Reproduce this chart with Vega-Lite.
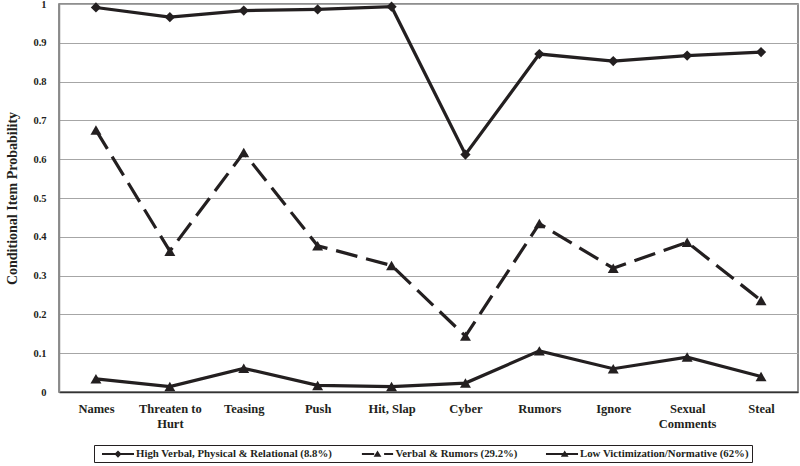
{
  "$schema": "https://vega.github.io/schema/vega-lite/v6.json",
  "autosize": "none",
  "width": 739,
  "height": 388,
  "padding": {"left": 59, "top": 4, "right": 2, "bottom": 74},
  "background": "white",
  "config": {
    "view": {"stroke": "#6b6b6b", "strokeWidth": 1.5},
    "font": "Liberation Serif"
  },
  "data": {
    "values": [
      {"series": "High Verbal, Physical & Relational (8.8%)", "item": "Names", "p": 0.991},
      {"series": "High Verbal, Physical & Relational (8.8%)", "item": "Threaten to Hurt", "p": 0.966},
      {"series": "High Verbal, Physical & Relational (8.8%)", "item": "Teasing", "p": 0.983},
      {"series": "High Verbal, Physical & Relational (8.8%)", "item": "Push", "p": 0.986},
      {"series": "High Verbal, Physical & Relational (8.8%)", "item": "Hit, Slap", "p": 0.993},
      {"series": "High Verbal, Physical & Relational (8.8%)", "item": "Cyber", "p": 0.612},
      {"series": "High Verbal, Physical & Relational (8.8%)", "item": "Rumors", "p": 0.871},
      {"series": "High Verbal, Physical & Relational (8.8%)", "item": "Ignore", "p": 0.853},
      {"series": "High Verbal, Physical & Relational (8.8%)", "item": "Sexual Comments", "p": 0.867},
      {"series": "High Verbal, Physical & Relational (8.8%)", "item": "Steal", "p": 0.876},
      {"series": "Verbal & Rumors (29.2%)", "item": "Names", "p": 0.675},
      {"series": "Verbal & Rumors (29.2%)", "item": "Threaten to Hurt", "p": 0.363},
      {"series": "Verbal & Rumors (29.2%)", "item": "Teasing", "p": 0.617},
      {"series": "Verbal & Rumors (29.2%)", "item": "Push", "p": 0.377},
      {"series": "Verbal & Rumors (29.2%)", "item": "Hit, Slap", "p": 0.326},
      {"series": "Verbal & Rumors (29.2%)", "item": "Cyber", "p": 0.144},
      {"series": "Verbal & Rumors (29.2%)", "item": "Rumors", "p": 0.434},
      {"series": "Verbal & Rumors (29.2%)", "item": "Ignore", "p": 0.319},
      {"series": "Verbal & Rumors (29.2%)", "item": "Sexual Comments", "p": 0.386},
      {"series": "Verbal & Rumors (29.2%)", "item": "Steal", "p": 0.236},
      {"series": "Low Victimization/Normative (62%)", "item": "Names", "p": 0.034},
      {"series": "Low Victimization/Normative (62%)", "item": "Threaten to Hurt", "p": 0.014},
      {"series": "Low Victimization/Normative (62%)", "item": "Teasing", "p": 0.061},
      {"series": "Low Victimization/Normative (62%)", "item": "Push", "p": 0.017},
      {"series": "Low Victimization/Normative (62%)", "item": "Hit, Slap", "p": 0.014},
      {"series": "Low Victimization/Normative (62%)", "item": "Cyber", "p": 0.023},
      {"series": "Low Victimization/Normative (62%)", "item": "Rumors", "p": 0.106},
      {"series": "Low Victimization/Normative (62%)", "item": "Ignore", "p": 0.06},
      {"series": "Low Victimization/Normative (62%)", "item": "Sexual Comments", "p": 0.09},
      {"series": "Low Victimization/Normative (62%)", "item": "Steal", "p": 0.04}
    ]
  },
  "encoding": {
    "x": {
      "field": "item",
      "type": "nominal",
      "sort": null,
      "scale": {"type": "point", "padding": 0.5},
      "axis": {
        "title": null,
        "labelAngle": 0,
        "labelFont": "Liberation Serif",
        "labelFontWeight": "bold",
        "labelFontSize": 12.5,
        "labelColor": "#231f20",
        "labelPadding": 10,
        "labelLineHeight": 15,
        "ticks": false,
        "tickSize": 0,
        "domainColor": "#333333",
        "domainWidth": 1.5,
        "grid": false,
        "labelExpr": "datum.value == 'Threaten to Hurt' ? ['Threaten to', 'Hurt'] : datum.value == 'Sexual Comments' ? ['Sexual', 'Comments'] : datum.value"
      }
    },
    "y": {
      "field": "p",
      "type": "quantitative",
      "scale": {"domain": [0, 1], "nice": false},
      "axis": {
        "title": "Conditional Item Probability",
        "titleFont": "Liberation Serif",
        "titleFontWeight": "bold",
        "titleFontSize": 14,
        "titleColor": "#231f20",
        "titlePadding": 13,
        "values": [0, 0.1, 0.2, 0.3, 0.4, 0.5, 0.6, 0.7, 0.8, 0.9, 1],
        "format": ".1~f",
        "labelFont": "Liberation Serif",
        "labelFontWeight": "bold",
        "labelFontSize": 10.5,
        "labelColor": "#231f20",
        "labelPadding": 13,
        "ticks": false,
        "tickSize": 0,
        "domainColor": "#8a8a8a",
        "domainWidth": 1.5,
        "grid": true,
        "gridColor": "#a6a6a6",
        "gridWidth": 1
      }
    }
  },
  "layer": [
    {
      "transform": [{"filter": "datum.series != 'Verbal & Rumors (29.2%)'"}],
      "mark": {"type": "line", "color": "#231f20", "strokeWidth": 3.2},
      "encoding": {
        "detail": {"field": "series"},
        "order": {"value": null}
      }
    },
    {
      "transform": [{"filter": "datum.series == 'Verbal & Rumors (29.2%)'"}],
      "mark": {"type": "line", "color": "#231f20", "strokeWidth": 3.2, "strokeDash": [22, 9]},
      "encoding": {
        "order": {"value": null}
      }
    },
    {
      "transform": [{"filter": "datum.series == 'High Verbal, Physical & Relational (8.8%)'"}],
      "mark": {"type": "point", "filled": true, "opacity": 1, "color": "#231f20", "size": 105, "shape": "diamond"}
    },
    {
      "transform": [{"filter": "datum.series != 'High Verbal, Physical & Relational (8.8%)'"}],
      "mark": {"type": "point", "filled": true, "opacity": 1, "color": "#231f20", "size": 120, "shape": "triangle-up"}
    },
    {
      "mark": {"type": "point", "filled": true, "opacity": 0, "color": "#231f20", "size": 10},
      "encoding": {
        "shape": {
          "field": "series",
          "type": "nominal",
          "scale": {
            "domain": ["High Verbal, Physical & Relational (8.8%)", "Verbal & Rumors (29.2%)", "Low Victimization/Normative (62%)"],
            "range": [
              "M-2.67,-0.17H2.67V0.17H-2.67ZM0,-0.6L0.6,0L0,0.6L-0.6,0Z",
              "M-2.6,-0.17H-0.55V0.17H-2.6ZM1.1,-0.17H2.6V0.17H1.1ZM-0.65,0.45L0,-0.6L0.65,0.45Z",
              "M-2.67,-0.17H2.67V0.17H-2.67ZM-0.2,0.45L0.45,-0.6L1.1,0.45Z"
            ]
          },
          "legend": {
            "title": null,
            "orient": "none",
            "legendX": 35,
            "legendY": 441,
            "direction": "horizontal",
            "strokeColor": "#231f20",
            "padding": 3,
            "symbolOffset": 15,
            "labelOffset": 12,
            "columnPadding": 23.5,
            "labelLimit": 400,
            "labelFont": "Liberation Serif",
            "labelFontWeight": "bold",
            "labelFontSize": 10.8,
            "labelColor": "#231f20",
            "symbolSize": 144,
            "symbolOpacity": 1,
            "symbolFillColor": "#231f20",
            "symbolStrokeColor": "#231f20",
            "symbolStrokeWidth": 0
          }
        }
      }
    }
  ]
}
